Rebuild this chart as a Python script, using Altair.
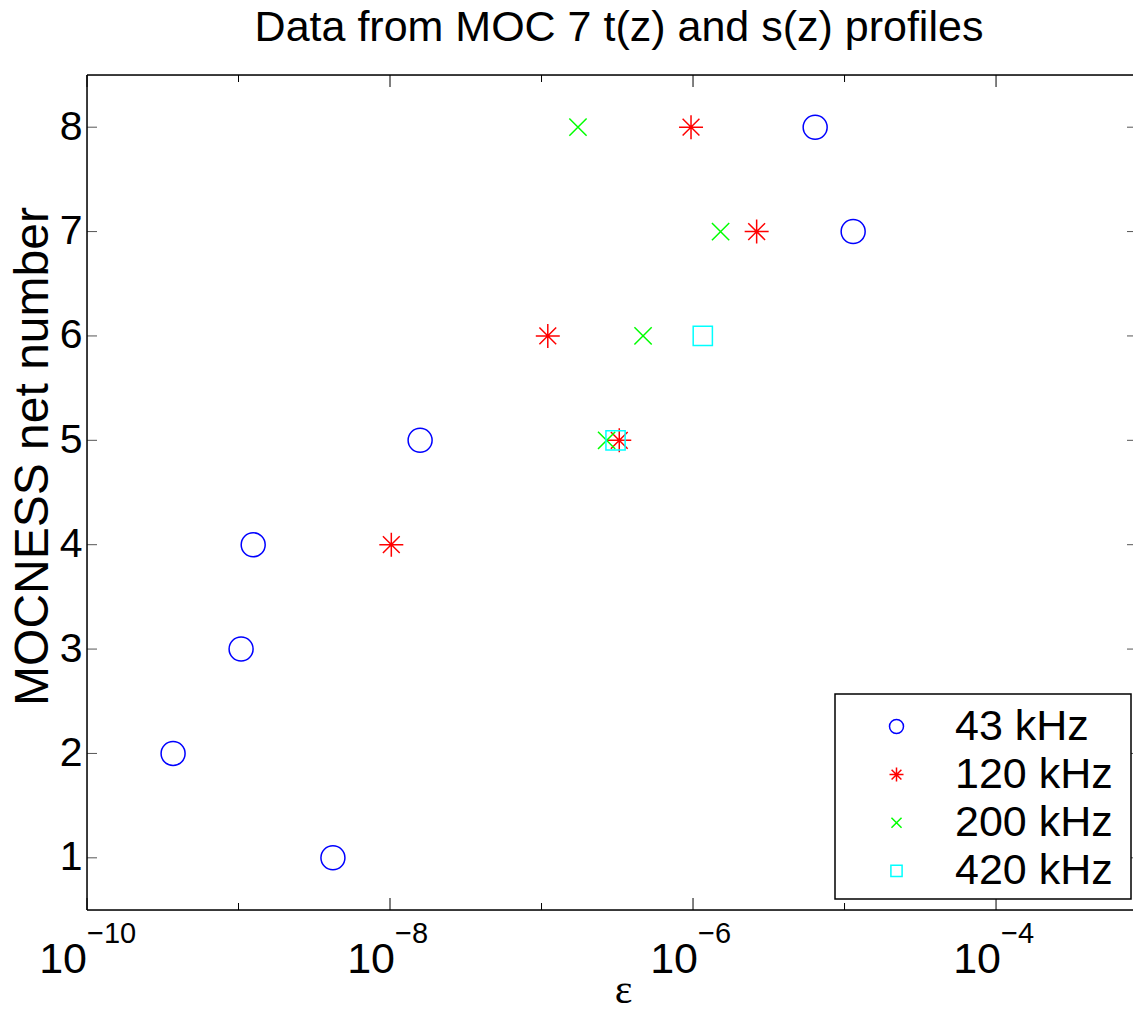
import altair as alt
import pandas as pd

# ---------------- data ----------------
series_names = ["43 kHz", "120 kHz", "200 kHz", "420 kHz"]
series_colors = ["#0000ff", "#ff0000", "#00ff00", "#00ffff"]

eps_43 = [4.2e-9, 3.7e-10, 1.04e-9, 1.25e-9, 1.58e-8, 1.14e-5, 6.4e-6]
net_43 = [1, 2, 3, 4, 5, 7, 8]
eps_120 = [1.02e-8, 3.26e-7, 1.10e-7, 2.63e-6, 9.7e-7]
net_120 = [4, 5, 6, 7, 8]
eps_200 = [2.69e-7, 4.68e-7, 1.52e-6, 1.74e-7]
net_200 = [5, 6, 7, 8]
eps_420 = [3.08e-7, 1.16e-6]
net_420 = [5, 6]

labeled_decades = [-10, -8, -6, -4]
minor_decades = [-9, -7, -5]
y_ticks = [1, 2, 3, 4, 5, 6, 7, 8]

# ---------------- layout ----------------
W, H = 1046, 835
XMIN, XMAX = 1e-10, 10 ** -3.096
FONT = "Liberation Sans"

ASTERISK = "M-1,0L1,0M0,-1L0,1M-0.7,-0.7L0.7,0.7M-0.7,0.7L0.7,-0.7"
XMARK = "M-0.72,-0.72L0.72,0.72M-0.72,0.72L0.72,-0.72"
SQUARE = "M-0.8,-0.8L0.8,-0.8L0.8,0.8L-0.8,0.8Z"
shapes = ["circle", ASTERISK, XMARK, SQUARE]

rows = []
for name, xs, ys in zip(series_names, [eps_43, eps_120, eps_200, eps_420],
                        [net_43, net_120, net_200, net_420]):
    for x, y in zip(xs, ys):
        rows.append({"series": name, "eps": x, "net": y})
df = pd.DataFrame(rows)

xscale = alt.Scale(type="log", domain=[XMIN, XMAX], nice=False)
yscale = alt.Scale(domain=[0.5, 8.5], nice=False, zero=False)

xaxis = alt.Axis(
    labels=False, ticks=False, domain=False, grid=False, title="ε",
    titleFont="Liberation Serif", titleFontSize=42, titleFontWeight="normal",
    titleColor="black", titleX=536, titleY=92, titleBaseline="alphabetic",
    titleAlign="center")
yaxis = alt.Axis(
    values=y_ticks, format="d", title="MOCNESS net number",
    titleFont=FONT, titleFontSize=48, titleFontWeight="normal", titleColor="black",
    titleAngle=270, titleX=-40, titleY=381, titleBaseline="alphabetic",
    titleAlign="center",
    labelFont=FONT, labelFontSize=41, labelColor="black", labelPadding=5,
    ticks=False, tickSize=0, domain=False, grid=False)

xenc = alt.X("eps:Q", scale=xscale, axis=xaxis)
yenc = alt.Y("net:Q", scale=yscale, axis=yaxis)

leg = alt.Legend(
    orient="none", legendX=788, legendY=630, title=None,
    labelFont=FONT, labelFontSize=43, labelColor="black",
    symbolSize=196, symbolStrokeWidth=1.5, labelOffset=37,
    rowPadding=4.1, padding=0,
)

points = alt.Chart(df).mark_point(filled=False, size=576, strokeWidth=1.5, opacity=1).encode(
    x=xenc,
    y=yenc,
    color=alt.Color("series:N", scale=alt.Scale(domain=series_names, range=series_colors), legend=leg),
    shape=alt.Shape("series:N", scale=alt.Scale(domain=series_names, range=shapes), legend=leg),
)

maj_df = pd.DataFrame({"eps": [10.0 ** d for d in labeled_decades], "dec": labeled_decades,
                       "base": ["10"] * len(labeled_decades),
                       "expo": ["\u2212" + str(-d) for d in labeled_decades]})
min_df = pd.DataFrame({"eps": [10.0 ** d for d in minor_decades]})
y_df = pd.DataFrame({"net": y_ticks})
one = pd.DataFrame({"k": [0]})

tick_style = dict(color="black", strokeWidth=1)
bot_major = alt.Chart(maj_df).mark_rule(**tick_style).encode(x=xenc, y=alt.value(H), y2=alt.value(H - 12))
bot_minor = alt.Chart(min_df).mark_rule(**tick_style).encode(x=xenc, y=alt.value(H), y2=alt.value(H - 7))
top_major = alt.Chart(maj_df).mark_rule(**tick_style).encode(x=xenc, y=alt.value(0), y2=alt.value(12))
top_minor = alt.Chart(min_df).mark_rule(**tick_style).encode(x=xenc, y=alt.value(0), y2=alt.value(7))
left_ticks = alt.Chart(y_df).mark_rule(color="#555555", strokeWidth=1).encode(y=yenc, x=alt.value(0), x2=alt.value(10))
right_ticks = alt.Chart(y_df).mark_rule(color="#555555", strokeWidth=1).encode(y=yenc, x=alt.value(W - 6), x2=alt.value(W))

border_style = dict(color="black", strokeWidth=1.5)
left_border = alt.Chart(one).mark_rule(**border_style).encode(x=alt.value(0), y=alt.value(0), y2=alt.value(H))
top_border = alt.Chart(one).mark_rule(**border_style).encode(x=alt.value(0), x2=alt.value(W), y=alt.value(0))
bot_border = alt.Chart(one).mark_rule(**border_style).encode(x=alt.value(0), x2=alt.value(W), y=alt.value(H))

def xlabels(filt, dx):
    base = alt.Chart(maj_df).transform_filter(filt).mark_text(
        align="right", baseline="alphabetic", font=FONT, fontSize=43, color="black", dx=dx
    ).encode(x=xenc, y=alt.value(H + 63), text="base:N")
    expo = alt.Chart(maj_df).transform_filter(filt).mark_text(
        align="left", baseline="alphabetic", font=FONT, fontSize=29, color="black", dx=dx
    ).encode(x=xenc, y=alt.value(H + 33), text="expo:N")
    return base + expo

lab_a = xlabels("datum.dec <= -10", 0)
lab_b = xlabels("datum.dec > -10", 5)

legend_box = alt.Chart(one).mark_rect(fill="white", stroke="black", strokeWidth=1.5).encode(
    x=alt.value(748), x2=alt.value(1044), y=alt.value(619), y2=alt.value(824))

chart = alt.layer(
    points, bot_major, bot_minor, top_major, top_minor, left_ticks, right_ticks,
    left_border, top_border, bot_border, lab_a, lab_b, legend_box,
).properties(
    width=W, height=H,
    title=alt.TitleParams(
        "Data from MOC 7 t(z) and s(z) profiles", font=FONT, fontSize=43,
        fontWeight="normal", color="black", anchor="middle", offset=35,
        baseline="alphabetic", dx=9, dy=45, frame="group"),
    autosize=alt.AutoSizeParams(type="none"),
    padding={"left": 79, "top": 67, "right": 0, "bottom": 94},
).configure_view(stroke=None).configure(background="white")

chart.save("out.html", embed_options={"renderer": "svg", "actions": False})
